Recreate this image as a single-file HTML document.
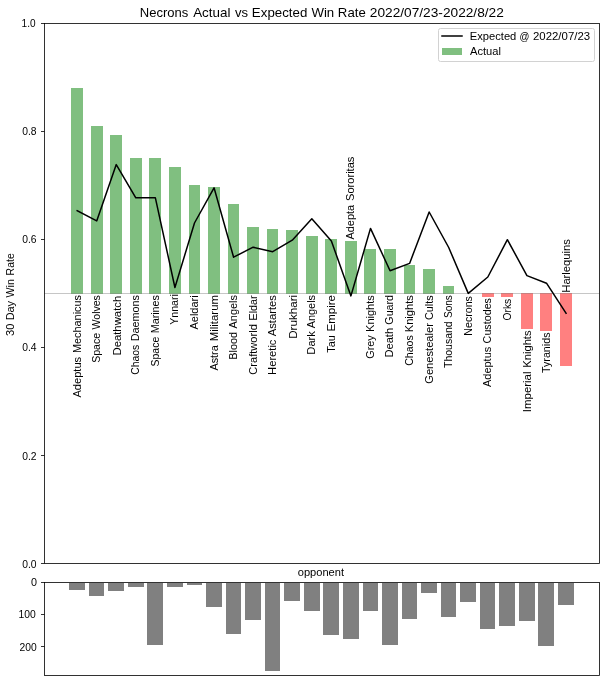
<!DOCTYPE html>
<html><head><meta charset="utf-8"><title>Necrons Actual vs Expected Win Rate</title>
<style>html,body{margin:0;padding:0;background:#fff}svg{display:block;will-change:transform}text{font-family:"Liberation Sans",sans-serif;fill:#000}</style></head><body>
<svg width="606" height="686" viewBox="0 0 606 686">
<rect x="0" y="0" width="606" height="686" fill="#ffffff"/>
<g shape-rendering="crispEdges">
<rect x="71" y="88" width="12" height="206" fill="#80bf80"/>
<rect x="91" y="126" width="12" height="168" fill="#80bf80"/>
<rect x="110" y="135" width="12" height="159" fill="#80bf80"/>
<rect x="130" y="158" width="12" height="136" fill="#80bf80"/>
<rect x="149" y="158" width="12" height="136" fill="#80bf80"/>
<rect x="169" y="167" width="12" height="127" fill="#80bf80"/>
<rect x="189" y="185" width="11" height="109" fill="#80bf80"/>
<rect x="208" y="187" width="12" height="107" fill="#80bf80"/>
<rect x="228" y="204" width="11" height="90" fill="#80bf80"/>
<rect x="247" y="227" width="12" height="67" fill="#80bf80"/>
<rect x="267" y="229" width="11" height="65" fill="#80bf80"/>
<rect x="286" y="230" width="12" height="64" fill="#80bf80"/>
<rect x="306" y="236" width="12" height="58" fill="#80bf80"/>
<rect x="325" y="239" width="12" height="55" fill="#80bf80"/>
<rect x="345" y="241" width="12" height="53" fill="#80bf80"/>
<rect x="364" y="249" width="12" height="45" fill="#80bf80"/>
<rect x="384" y="249" width="12" height="45" fill="#80bf80"/>
<rect x="404" y="265" width="11" height="29" fill="#80bf80"/>
<rect x="423" y="269" width="12" height="25" fill="#80bf80"/>
<rect x="443" y="286" width="11" height="8" fill="#80bf80"/>
<rect x="482" y="293" width="12" height="4" fill="#ff8080"/>
<rect x="501" y="293" width="12" height="4" fill="#ff8080"/>
<rect x="521" y="293" width="12" height="36" fill="#ff8080"/>
<rect x="540" y="293" width="12" height="38" fill="#ff8080"/>
<rect x="560" y="293" width="12" height="73" fill="#ff8080"/>
</g>
<line x1="44.5" y1="293.5" x2="599.5" y2="293.5" stroke="#808080" stroke-opacity="0.45" stroke-width="1"/>
<polyline points="77.15,210.75 96.71,220.9 116.26,164.6 135.82,197.8 155.37,197.8 174.93,287.5 194.49,223.0 214.04,187.8 233.60,257.2 253.15,247.2 272.71,251.7 292.27,240.2 311.82,218.7 331.38,241.0 350.93,295.9 370.49,228.4 390.05,270.7 409.60,263.4 429.16,212.0 448.71,247.5 468.27,293.4 487.83,277.0 507.38,239.7 526.94,275.6 546.49,283.2 566.05,313.3" fill="none" stroke="#000" stroke-width="1.5" stroke-linejoin="round" stroke-linecap="square"/>
<text transform="translate(81.4,500) rotate(-90)" x="102.49" font-size="10.5" textLength="40.64" lengthAdjust="spacingAndGlyphs">Adeptus</text>
<text transform="translate(81.4,500) rotate(-90)" x="146.99" font-size="10.5" textLength="57.97" lengthAdjust="spacingAndGlyphs">Mechanicus</text>
<text transform="translate(100.0,500) rotate(-90)" x="137.2" font-size="10.5" textLength="29.91" lengthAdjust="spacingAndGlyphs">Space</text>
<text transform="translate(100.0,500) rotate(-90)" x="170.51" font-size="10.5" textLength="34.4" lengthAdjust="spacingAndGlyphs">Wolves</text>
<text transform="translate(121.0,500) rotate(-90)" x="144.46" font-size="10.5" textLength="59.8" lengthAdjust="spacingAndGlyphs">Deathwatch</text>
<text transform="translate(138.9,500) rotate(-90)" x="125.29" font-size="10.5" textLength="30.02" lengthAdjust="spacingAndGlyphs">Chaos</text>
<text transform="translate(138.9,500) rotate(-90)" x="158.7" font-size="10.5" textLength="46.36" lengthAdjust="spacingAndGlyphs">Daemons</text>
<text transform="translate(159.4,500) rotate(-90)" x="133.56" font-size="10.5" textLength="29.69" lengthAdjust="spacingAndGlyphs">Space</text>
<text transform="translate(159.4,500) rotate(-90)" x="166.69" font-size="10.5" textLength="38.29" lengthAdjust="spacingAndGlyphs">Marines</text>
<text transform="translate(177.9,500) rotate(-90)" x="175.29" font-size="10.5" textLength="30.62" lengthAdjust="spacingAndGlyphs">Ynnari</text>
<text transform="translate(198.2,500) rotate(-90)" x="170.47" font-size="10.5" textLength="34.13" lengthAdjust="spacingAndGlyphs">Aeldari</text>
<text transform="translate(217.6,500) rotate(-90)" x="129.47" font-size="10.5" textLength="25.28" lengthAdjust="spacingAndGlyphs">Astra</text>
<text transform="translate(217.6,500) rotate(-90)" x="158.71" font-size="10.5" textLength="46.32" lengthAdjust="spacingAndGlyphs">Militarum</text>
<text transform="translate(236.8,500) rotate(-90)" x="140.38" font-size="10.5" textLength="27.67" lengthAdjust="spacingAndGlyphs">Blood</text>
<text transform="translate(236.8,500) rotate(-90)" x="171.52" font-size="10.5" textLength="33.41" lengthAdjust="spacingAndGlyphs">Angels</text>
<text transform="translate(257.2,500) rotate(-90)" x="125.32" font-size="10.5" textLength="50.5" lengthAdjust="spacingAndGlyphs">Craftworld</text>
<text transform="translate(257.2,500) rotate(-90)" x="179.55" font-size="10.5" textLength="24.89" lengthAdjust="spacingAndGlyphs">Eldar</text>
<text transform="translate(276.4,500) rotate(-90)" x="125.13" font-size="10.5" textLength="35.33" lengthAdjust="spacingAndGlyphs">Heretic</text>
<text transform="translate(276.4,500) rotate(-90)" x="163.67" font-size="10.5" textLength="41.32" lengthAdjust="spacingAndGlyphs">Astartes</text>
<text transform="translate(297.2,500) rotate(-90)" x="161.22" font-size="10.5" textLength="43.93" lengthAdjust="spacingAndGlyphs">Drukhari</text>
<text transform="translate(315.4,500) rotate(-90)" x="145.29" font-size="10.5" textLength="23.68" lengthAdjust="spacingAndGlyphs">Dark</text>
<text transform="translate(315.4,500) rotate(-90)" x="171.67" font-size="10.5" textLength="33.4" lengthAdjust="spacingAndGlyphs">Angels</text>
<text transform="translate(335.0,500) rotate(-90)" x="147.21" font-size="10.5" textLength="17.56" lengthAdjust="spacingAndGlyphs">Tau</text>
<text transform="translate(335.0,500) rotate(-90)" x="168.48" font-size="10.5" textLength="36.58" lengthAdjust="spacingAndGlyphs">Empire</text>
<text transform="translate(354.2,500) rotate(-90)" x="260.46" font-size="10.5" textLength="34.74" lengthAdjust="spacingAndGlyphs">Adepta</text>
<text transform="translate(354.2,500) rotate(-90)" x="299.05" font-size="10.5" textLength="44.34" lengthAdjust="spacingAndGlyphs">Sororitas</text>
<text transform="translate(374.2,500) rotate(-90)" x="141.34" font-size="10.5" textLength="23.46" lengthAdjust="spacingAndGlyphs">Grey</text>
<text transform="translate(374.2,500) rotate(-90)" x="168.13" font-size="10.5" textLength="36.62" lengthAdjust="spacingAndGlyphs">Knights</text>
<text transform="translate(393.0,500) rotate(-90)" x="142.53" font-size="10.5" textLength="29.59" lengthAdjust="spacingAndGlyphs">Death</text>
<text transform="translate(393.0,500) rotate(-90)" x="175.33" font-size="10.5" textLength="29.75" lengthAdjust="spacingAndGlyphs">Guard</text>
<text transform="translate(412.8,500) rotate(-90)" x="134.22" font-size="10.5" textLength="30.46" lengthAdjust="spacingAndGlyphs">Chaos</text>
<text transform="translate(412.8,500) rotate(-90)" x="167.83" font-size="10.5" textLength="36.94" lengthAdjust="spacingAndGlyphs">Knights</text>
<text transform="translate(432.8,500) rotate(-90)" x="116.23" font-size="10.5" textLength="60.73" lengthAdjust="spacingAndGlyphs">Genestealer</text>
<text transform="translate(432.8,500) rotate(-90)" x="179.95" font-size="10.5" textLength="24.82" lengthAdjust="spacingAndGlyphs">Cults</text>
<text transform="translate(452.2,500) rotate(-90)" x="132.0" font-size="10.5" textLength="46.67" lengthAdjust="spacingAndGlyphs">Thousand</text>
<text transform="translate(452.2,500) rotate(-90)" x="181.95" font-size="10.5" textLength="22.96" lengthAdjust="spacingAndGlyphs">Sons</text>
<text transform="translate(472.0,500) rotate(-90)" x="164.32" font-size="10.5" textLength="39.64" lengthAdjust="spacingAndGlyphs">Necrons</text>
<text transform="translate(490.8,500) rotate(-90)" x="113.0" font-size="10.5" textLength="40.25" lengthAdjust="spacingAndGlyphs">Adeptus</text>
<text transform="translate(490.8,500) rotate(-90)" x="156.64" font-size="10.5" textLength="45.36" lengthAdjust="spacingAndGlyphs">Custodes</text>
<text transform="translate(511.0,500) rotate(-90)" x="179.59" font-size="10.5" textLength="21.65" lengthAdjust="spacingAndGlyphs">Orks</text>
<text transform="translate(530.5,500) rotate(-90)" x="87.85" font-size="10.5" textLength="40.69" lengthAdjust="spacingAndGlyphs">Imperial</text>
<text transform="translate(530.5,500) rotate(-90)" x="132.2" font-size="10.5" textLength="37.41" lengthAdjust="spacingAndGlyphs">Knights</text>
<text transform="translate(549.8,500) rotate(-90)" x="127.03" font-size="10.5" textLength="40.47" lengthAdjust="spacingAndGlyphs">Tyranids</text>
<text transform="translate(570.2,500) rotate(-90)" x="207.28" font-size="10.5" textLength="53.7" lengthAdjust="spacingAndGlyphs">Harlequins</text>
<rect x="44.5" y="23.5" width="555.0" height="540.0" fill="none" stroke="#000" stroke-width="0.8"/>
<line x1="41" y1="23.5" x2="44.5" y2="23.5" stroke="#000" stroke-width="0.8"/>
<text x="35.6" y="26.8" font-size="10.5" text-anchor="end" textLength="14.0" lengthAdjust="spacingAndGlyphs">1.0</text>
<line x1="41" y1="131.5" x2="44.5" y2="131.5" stroke="#000" stroke-width="0.8"/>
<text x="36.6" y="134.8" font-size="10.5" text-anchor="end" textLength="14.4" lengthAdjust="spacingAndGlyphs">0.8</text>
<line x1="41" y1="239.5" x2="44.5" y2="239.5" stroke="#000" stroke-width="0.8"/>
<text x="36.6" y="242.8" font-size="10.5" text-anchor="end" textLength="14.4" lengthAdjust="spacingAndGlyphs">0.6</text>
<line x1="41" y1="347.5" x2="44.5" y2="347.5" stroke="#000" stroke-width="0.8"/>
<text x="36.6" y="350.8" font-size="10.5" text-anchor="end" textLength="14.4" lengthAdjust="spacingAndGlyphs">0.4</text>
<line x1="41" y1="455.5" x2="44.5" y2="455.5" stroke="#000" stroke-width="0.8"/>
<text x="36.6" y="459.8" font-size="10.5" text-anchor="end" textLength="14.4" lengthAdjust="spacingAndGlyphs">0.2</text>
<line x1="41" y1="563.5" x2="44.5" y2="563.5" stroke="#000" stroke-width="0.8"/>
<text x="36.6" y="567.8" font-size="10.5" text-anchor="end" textLength="14.4" lengthAdjust="spacingAndGlyphs">0.0</text>
<text transform="translate(14.1,500) rotate(-90)" x="164.01" font-size="10.5" textLength="12.37" lengthAdjust="spacingAndGlyphs">30</text>
<text transform="translate(14.1,500) rotate(-90)" x="179.73" font-size="10.5" textLength="19.36" lengthAdjust="spacingAndGlyphs">Day</text>
<text transform="translate(14.1,500) rotate(-90)" x="202.64" font-size="10.5" textLength="18.15" lengthAdjust="spacingAndGlyphs">Win</text>
<text transform="translate(14.1,500) rotate(-90)" x="224.62" font-size="10.5" textLength="22.13" lengthAdjust="spacingAndGlyphs">Rate</text>
<text x="139.83" y="17.2" font-size="12.6" textLength="48.56" lengthAdjust="spacingAndGlyphs">Necrons</text>
<text x="193.18" y="17.2" font-size="12.6" textLength="37.26" lengthAdjust="spacingAndGlyphs">Actual</text>
<text x="235.08" y="17.2" font-size="12.6" textLength="13.06" lengthAdjust="spacingAndGlyphs">vs</text>
<text x="251.86" y="17.2" font-size="12.6" textLength="55.46" lengthAdjust="spacingAndGlyphs">Expected</text>
<text x="311.44" y="17.2" font-size="12.6" textLength="22.8" lengthAdjust="spacingAndGlyphs">Win</text>
<text x="337.89" y="17.2" font-size="12.6" textLength="27.85" lengthAdjust="spacingAndGlyphs">Rate</text>
<text x="369.84" y="17.2" font-size="12.6" textLength="133.99" lengthAdjust="spacingAndGlyphs">2022/07/23-2022/8/22</text>
<rect x="438.5" y="28.5" width="156" height="33" rx="2" ry="2" fill="#fff" fill-opacity="0.8" stroke="#d2d2d2" stroke-width="1"/>
<line x1="442" y1="36" x2="462" y2="36" stroke="#000" stroke-width="1.5" stroke-linecap="square"/>
<rect x="442" y="48" width="20" height="7" fill="#80bf80" shape-rendering="crispEdges"/>
<text x="469.78" y="39.6" font-size="10.5" textLength="46.54" lengthAdjust="spacingAndGlyphs">Expected</text>
<text x="519.44" y="39.6" font-size="10.5" textLength="9.9" lengthAdjust="spacingAndGlyphs">&#64;</text>
<text x="533.01" y="39.6" font-size="10.5" textLength="57.09" lengthAdjust="spacingAndGlyphs">2022/07/23</text>
<text x="470.0" y="54.6" font-size="10.5" textLength="30.99" lengthAdjust="spacingAndGlyphs">Actual</text>
<text x="297.75" y="575.8" font-size="10.5" textLength="46.25" lengthAdjust="spacingAndGlyphs">opponent</text>
<g shape-rendering="crispEdges">
<rect x="69" y="583" width="16" height="7" fill="#808080"/>
<rect x="89" y="583" width="15" height="13" fill="#808080"/>
<rect x="108" y="583" width="16" height="8" fill="#808080"/>
<rect x="128" y="583" width="16" height="4" fill="#808080"/>
<rect x="147" y="583" width="16" height="62" fill="#808080"/>
<rect x="167" y="583" width="16" height="4" fill="#808080"/>
<rect x="187" y="583" width="15" height="2" fill="#808080"/>
<rect x="206" y="583" width="16" height="24" fill="#808080"/>
<rect x="226" y="583" width="15" height="51" fill="#808080"/>
<rect x="245" y="583" width="16" height="37" fill="#808080"/>
<rect x="265" y="583" width="15" height="88" fill="#808080"/>
<rect x="284" y="583" width="16" height="18" fill="#808080"/>
<rect x="304" y="583" width="16" height="28" fill="#808080"/>
<rect x="323" y="583" width="16" height="52" fill="#808080"/>
<rect x="343" y="583" width="16" height="56" fill="#808080"/>
<rect x="363" y="583" width="15" height="28" fill="#808080"/>
<rect x="382" y="583" width="16" height="62" fill="#808080"/>
<rect x="402" y="583" width="15" height="36" fill="#808080"/>
<rect x="421" y="583" width="16" height="10" fill="#808080"/>
<rect x="441" y="583" width="15" height="34" fill="#808080"/>
<rect x="460" y="583" width="16" height="19" fill="#808080"/>
<rect x="480" y="583" width="15" height="46" fill="#808080"/>
<rect x="499" y="583" width="16" height="43" fill="#808080"/>
<rect x="519" y="583" width="16" height="38" fill="#808080"/>
<rect x="538" y="583" width="16" height="63" fill="#808080"/>
<rect x="558" y="583" width="16" height="22" fill="#808080"/>
</g>
<rect x="44.5" y="582.5" width="555.0" height="93.0" fill="none" stroke="#000" stroke-width="0.8"/>
<line x1="41" y1="582.5" x2="44.5" y2="582.5" stroke="#000" stroke-width="0.8"/>
<text x="37.0" y="585.8" font-size="10.5" text-anchor="end" textLength="6.0" lengthAdjust="spacingAndGlyphs">0</text>
<line x1="41" y1="614.5" x2="44.5" y2="614.5" stroke="#000" stroke-width="0.8"/>
<text x="35.9" y="617.8" font-size="10.5" text-anchor="end" textLength="17.3" lengthAdjust="spacingAndGlyphs">100</text>
<line x1="41" y1="646.5" x2="44.5" y2="646.5" stroke="#000" stroke-width="0.8"/>
<text x="36.8" y="650.8" font-size="10.5" text-anchor="end" textLength="17.2" lengthAdjust="spacingAndGlyphs">200</text>
</svg></body></html>
